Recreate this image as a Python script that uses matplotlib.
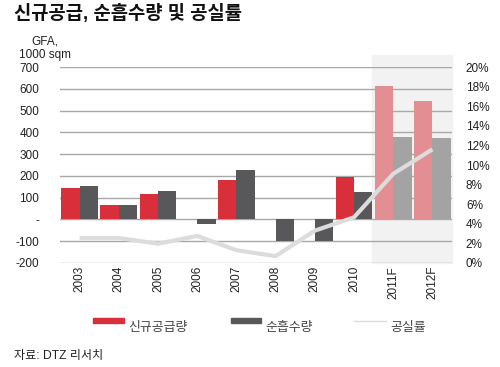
import numpy as np
import matplotlib.pyplot as plt
import matplotlib.transforms as mtransforms
from matplotlib.patches import Rectangle
from matplotlib.lines import Line2D

plt.rcParams['font.family'] = ['Liberation Sans', 'Noto Sans CJK KR']

years = ['2003', '2004', '2005', '2006', '2007', '2008', '2009', '2010', '2011F', '2012F']
newSupply = [146, 67, 116, 0, 181, 0, 0, 193, 615, 545]
netAbsorption = [154, 67, 132, -21, 228, -100, -100, 128, 377, 373]
vacancy = [2.55, 2.55, 1.97, 2.76, 1.3, 0.7, 3.3, 4.66, 9.1, 11.6]
nForecast = 2

leftTicks = [-200, -100, 0, 100, 200, 300, 400, 500, 600, 700]
leftTickLabels = ['-200', '-100', '-', '100', '200', '300', '400', '500', '600', '700']
rightTicks = [0, 2, 4, 6, 8, 10, 12, 14, 16, 18, 20]

RED, DARK = '#d92f3a', '#58585a'
RED_F, GRAY_F = '#e38e93', '#a3a3a3'
LINE = '#dcdcdc'

fig = plt.figure(figsize=(5, 3.67), dpi=100)
ax = fig.add_axes([0.12, 0.2834, 0.784, 0.534])

x = np.arange(len(years))
w = 0.47
nActual = len(years) - nForecast
redCols = [RED] * nActual + [RED_F] * nForecast
darkCols = [DARK] * nActual + [GRAY_F] * nForecast

# forecast shading, sticks out a little above the plot
trans = mtransforms.blended_transform_factory(ax.transData, ax.transAxes)
ax.add_patch(Rectangle((nActual - 0.53, 0), len(years) - nActual + 0.03, 1.061,
                       transform=trans, color='#f2f2f2', clip_on=False, zorder=0))

ax.bar(x - w / 2, newSupply, w, color=redCols, zorder=3)
ax.bar(x + w / 2, netAbsorption, w, color=darkCols, zorder=3)

ax.set_xlim(-0.5, len(years) - 0.5)
ax.set_ylim(-200, 700)
ax.set_yticks(leftTicks)
ax.set_yticklabels(leftTickLabels)
ax.yaxis.grid(True, color='#a8a8a8', linewidth=1)
ax.set_axisbelow(True)
ax.set_xticks(x)
ax.set_xticklabels(years, rotation=90)
ax.tick_params(axis='both', length=0, labelsize=8.5, labelcolor='#222222')
ax.tick_params(axis='y', pad=15)
ax.tick_params(axis='x', pad=2)
for s in ax.spines.values():
    s.set_visible(False)

ax2 = ax.twinx()
ax2.plot(x, vacancy, color=LINE, linewidth=3, solid_capstyle='butt')
ax2.set_ylim(0, 20)
ax2.set_yticks(rightTicks)
ax2.set_yticklabels([f'{v}%' for v in rightTicks])
ax2.tick_params(axis='y', length=0, labelsize=8.5, labelcolor='#222222', pad=10)
for s in ax2.spines.values():
    s.set_visible(False)

fig.text(14 / 500, 1 - 13 / 367, '신규공급, 순흡수량 및 공실률', fontsize=13.5,
         fontweight='bold', va='center', ha='left', color='#111111')
fig.text(45 / 500, 1 - 41 / 367, 'GFA,', fontsize=8.5, ha='center', va='center', color='#222222')
fig.text(45 / 500, 1 - 55 / 367, '1000 sqm', fontsize=8.5, ha='center', va='center', color='#222222')

# legend drawn by hand under the chart
fig.patches.append(Rectangle((93 / 500, 1 - 323 / 367), 31 / 500, 5 / 367,
                             transform=fig.transFigure, color=RED))
fig.patches.append(Rectangle((231 / 500, 1 - 323 / 367), 30 / 500, 5 / 367,
                             transform=fig.transFigure, color=DARK))
fig.lines.append(Line2D([354 / 500, 386 / 500], [1 - 321 / 367] * 2,
                        transform=fig.transFigure, color=LINE, linewidth=1))
for lx, lab in [(128, '신규공급량'), (265, '순흡수량'), (390, '공실률')]:
    fig.text(lx / 500, 1 - 328 / 367, lab, fontsize=9.3, va='center', ha='left', color='#444444')

fig.text(14 / 500, 1 - 356 / 367, '자료: DTZ 리서치', fontsize=8.7, va='center', ha='left', color='#222222')

fig.savefig('out.png', dpi=100)
